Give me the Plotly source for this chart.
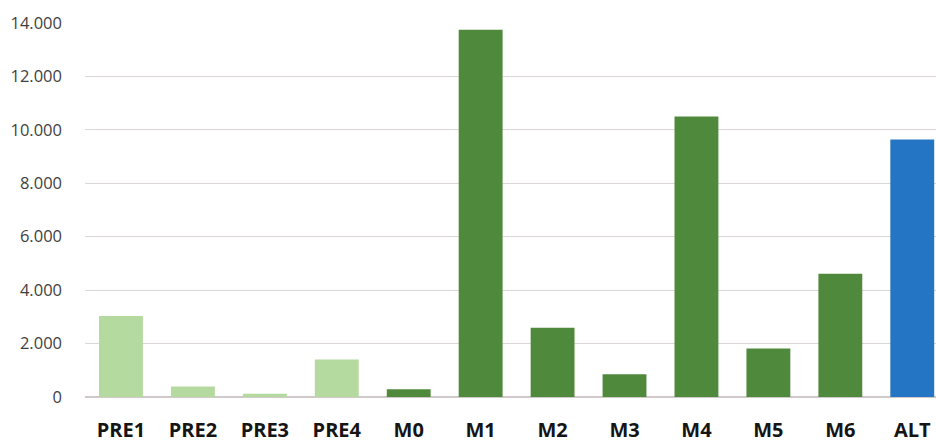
import plotly.graph_objects as go

categories = ["PRE1", "PRE2", "PRE3", "PRE4", "M0", "M1", "M2", "M3", "M4", "M5", "M6", "ALT"]
values = [3030, 390, 120, 1400, 290, 13750, 2590, 850, 10500, 1820, 4610, 9640]
groups = ["pre", "pre", "pre", "pre", "m", "m", "m", "m", "m", "m", "m", "alt"]
y_ticks = [0, 2000, 4000, 6000, 8000, 10000, 12000, 14000]
y_tick_labels = ["0", "2.000", "4.000", "6.000", "8.000", "10.000", "12.000", "14.000"]

group_colors = {"pre": "#b4da9f", "m": "#4f8a3c", "alt": "#2475c4"}
bar_colors = [group_colors[g] for g in groups]

fig = go.Figure(
    go.Bar(
        x=categories,
        y=values,
        marker=dict(color=bar_colors, line=dict(width=0)),
        width=0.61,
    )
)

fig.update_layout(
    width=936,
    height=443,
    margin=dict(l=85, r=0, t=23, b=46),
    paper_bgcolor="white",
    plot_bgcolor="white",
    showlegend=False,
    font=dict(family="Open Sans, Noto Sans, sans-serif"),
)

fig.update_xaxes(
    range=[-0.5, 11.33],
    showgrid=False,
    showline=False,
    ticks="",
    tickfont=dict(size=20, color="#151515", family="Open Sans, sans-serif", weight="bold"),
    ticklabelstandoff=19,
)

fig.update_yaxes(
    range=[0, 14000],
    tickvals=y_ticks,
    ticktext=y_tick_labels,
    showgrid=True,
    gridcolor="#dcd6d6",
    gridwidth=1.3,
    zeroline=True,
    zerolinecolor="#cfc9c9",
    zerolinewidth=1.5,
    showline=False,
    ticks="",
    tickfont=dict(size=16.5, color="#3f3f3f"),
    ticklabelstandoff=22,
)

fig.write_html("out.html")
